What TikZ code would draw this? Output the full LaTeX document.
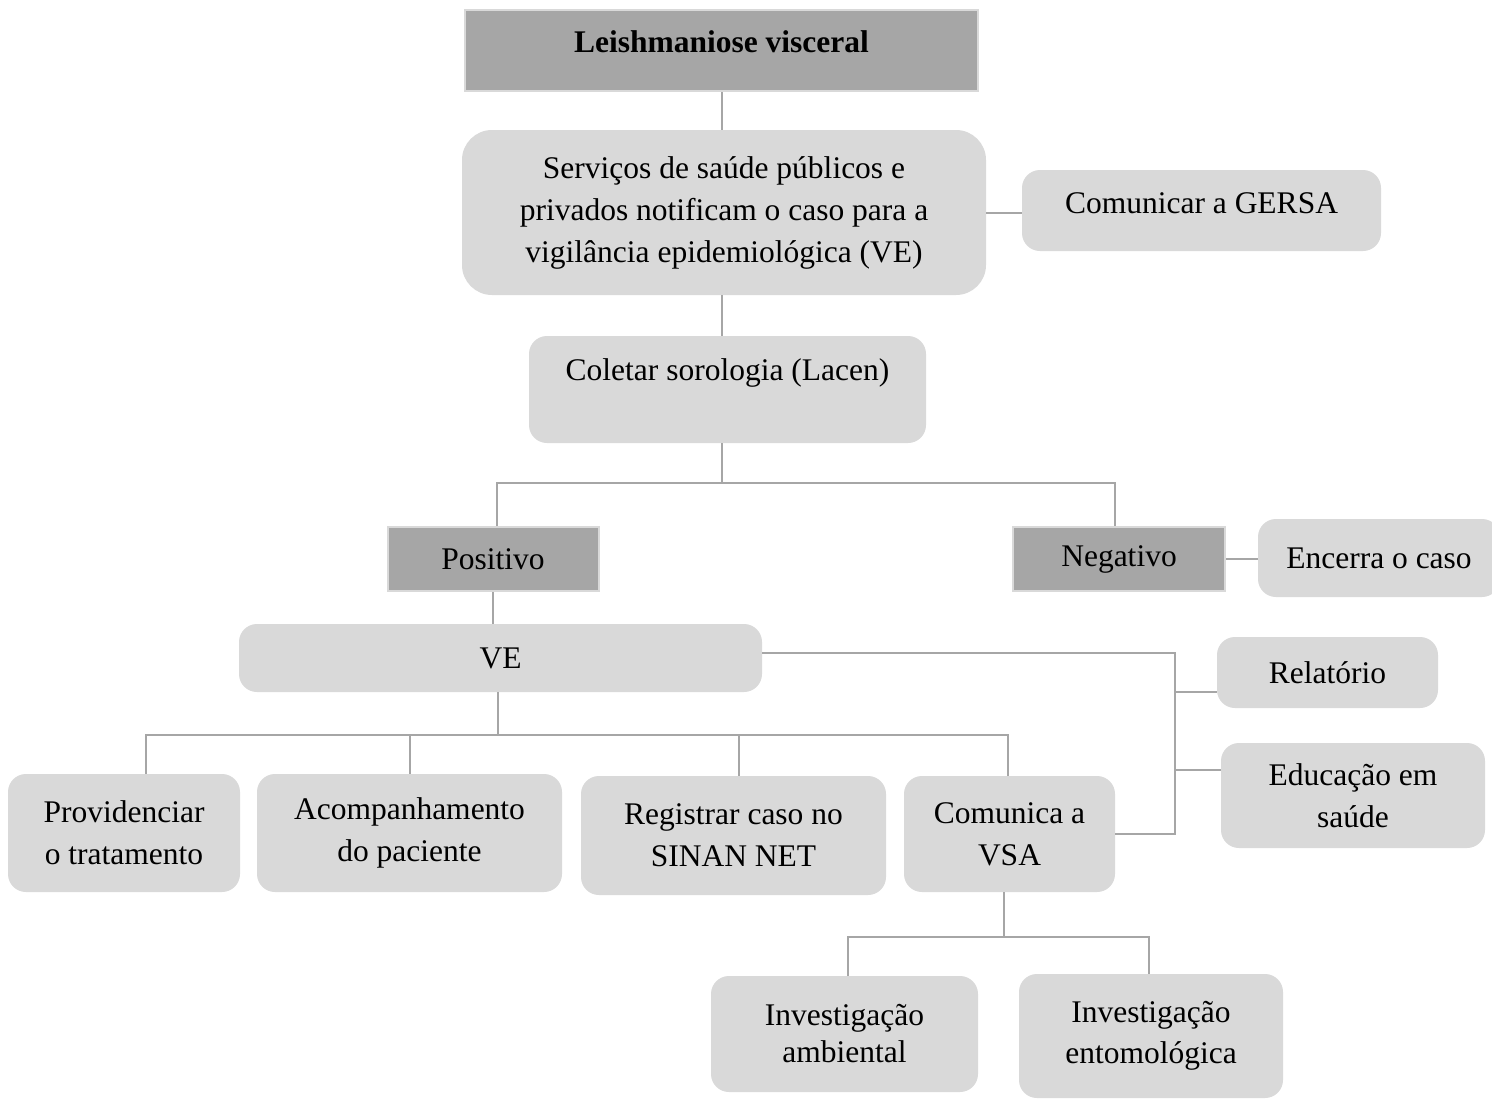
\documentclass[tikz,border=0pt]{standalone}
\usepackage{fontspec}
\setmainfont{Liberation Serif}
\definecolor{headfill}{HTML}{A6A6A6}
\definecolor{softfill}{HTML}{D9D9D9}
\definecolor{wire}{HTML}{A6A6A6}
\tikzset{
  txt/.style={font=\fontsize{31.5}{42}\selectfont, align=center, inner sep=0pt, text=black},
  headbox/.style={txt, rectangle, fill=headfill, draw=softfill, line width=2pt},
  softbox/.style={txt, rectangle, fill=softfill, draw=none, rounded corners=18pt},
  link/.style={draw=wire, line width=2pt},
}
\begin{document}
\begin{tikzpicture}[x=1pt, y=-1pt]
\useasboundingbox (0,0) rectangle (1492,1101);
\fill[white] (0,0) rectangle (1492,1101);

% boxes
\node[headbox, minimum width=513pt, minimum height=81pt, font=\fontsize{31.5}{42}\selectfont\bfseries, text depth=18.5pt] (title) at (721.5,50.5) {Leishmaniose visceral};
\node[softbox, rounded corners=30pt, minimum width=524pt, minimum height=165pt] (serv) at (724,212.5) {Serviços de saúde públicos e\\privados notificam o caso para a\\vigilância epidemiológica (VE)};
\node[softbox, minimum width=359pt, minimum height=81pt, text depth=14pt] (gersa) at (1201.5,210.5) {Comunicar a GERSA};
\node[softbox, minimum width=397pt, minimum height=107pt, text depth=40pt] (col) at (727.5,389.5) {Coletar sorologia (Lacen)};
\node[headbox, minimum width=211pt, minimum height=64pt] (pos) at (493,559) {Positivo};
\node[headbox, minimum width=212pt, minimum height=64pt] (neg) at (1119,559) {Negativo};
\node[softbox, minimum width=242pt, minimum height=78pt] (enc) at (1379,558) {Encerra o caso};
\node[softbox, minimum width=523pt, minimum height=68pt] (ve) at (500.5,658) {VE};
\node[softbox, minimum width=221pt, minimum height=71pt] (rel) at (1327.5,672.5) {Relatório};
\node[softbox, minimum width=264pt, minimum height=105pt] (edu) at (1353,795.5) {Educação em\\saúde};
\node[softbox, minimum width=232pt, minimum height=118pt] (prov) at (124,833) {Providenciar\\o tratamento};
\node[softbox, minimum width=305pt, minimum height=118pt] (acomp) at (409.5,833) {Acompanhamento\\do paciente};
\node[softbox, minimum width=305pt, minimum height=119pt] (reg) at (733.5,835.5) {Registrar caso no\\SINAN NET};
\node[softbox, minimum width=211pt, minimum height=116pt] (com) at (1009.5,834) {Comunica a\\VSA};
\node[softbox, minimum width=267pt, minimum height=116pt, font=\fontsize{31.5}{37}\selectfont] (amb) at (844.5,1034) {Investigação\\ambiental};
\node[softbox, minimum width=264pt, minimum height=124pt, font=\fontsize{31.5}{41}\selectfont] (ent) at (1151,1036) {Investigação\\entomológica};

% junction points
\coordinate (fork1) at (722,483);
\coordinate (fork2) at (498,735);
\coordinate (bus) at (1175,0);
\coordinate (fork3) at (1004,937);

% connectors
\draw[link] (title.south) -- (title.south |- serv.north);
\draw[link] (serv.east) -- (serv.east -| gersa.west);
\draw[link] (title.south |- serv.south) -- (title.south |- col.north);
\draw[link] (col.south -| fork1) -- (fork1);
\draw[link] ([xshift=4pt]pos.north) |- (fork1) -| ([xshift=-4pt]neg.north);
\draw[link] (neg.east) -- (neg.east -| enc.west);
\draw[link] (pos.south) -- (pos.south |- ve.north);

\draw[link] (ve.south -| fork2) -- (fork2);
\draw[link] ([xshift=22pt]prov.north) |- (fork2) -| ([xshift=-1.5pt]com.north);
\draw[link] (acomp.north) -- (acomp.north |- fork2);
\draw[link] ([xshift=5.5pt]reg.north) -- ([xshift=5.5pt]reg.north |- fork2);

\draw[link] ([yshift=5pt]ve.east) -| (bus |- com.east) -- (com.east);
\path ([yshift=-19.5pt]rel.west) coordinate (relin);
\path ([yshift=25.5pt]edu.west) coordinate (eduin);
\draw[link] (relin) -- (relin -| bus);
\draw[link] (eduin) -- (eduin -| bus);

\draw[link] (com.south -| fork3) -- (fork3);
\draw[link] ([xshift=3.5pt]amb.north) |- (fork3) -| ([xshift=-2pt]ent.north);
\end{tikzpicture}
\end{document}
